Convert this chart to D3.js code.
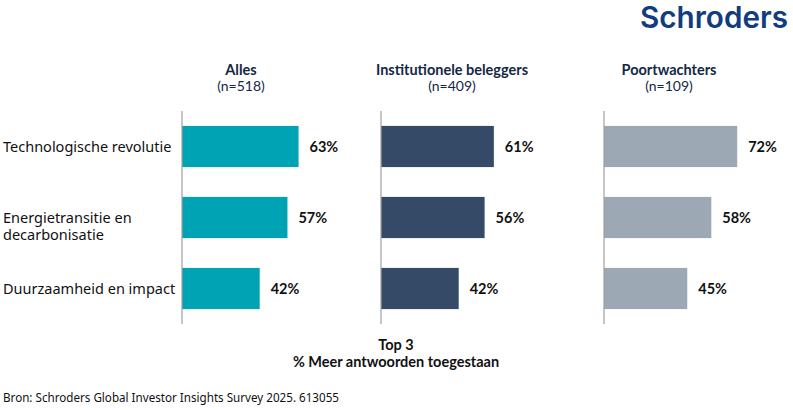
<!DOCTYPE html>
<html><head><meta charset="utf-8">
<script src="https://cdn.jsdelivr.net/npm/d3@7"></script>
<style>body{margin:0;background:#fff}svg{display:block}</style>
</head><body><svg id="c" width="793" height="410"></svg>
<script>
const categories = [["Technologische revolutie"], ["Energietransitie en", "decarbonisatie"], ["Duurzaamheid en impact"]];
const groups = ["Alles", "Institutionele beleggers", "Poortwachters"];
const sampleSizes = ["(n=518)", "(n=409)", "(n=109)"];
const allesValues = [63, 57, 42];
const institutioneleValues = [61, 56, 42];
const poortwachtersValues = [72, 58, 45];
const seriesValues = [allesValues, institutioneleValues, poortwachtersValues];
const colors = ["#00a3b4", "#344a66", "#9ca9b4"];

const svg = d3.select("#c");
const panelX = [182, 381, 604];
const headerX = [241, 452, 669];
const x = d3.scaleLinear().domain([0, 100]).range([0, 185]);
const y = d3.scaleBand().domain(d3.range(categories.length)).range([111, 324]).paddingInner(0.42).paddingOuter(0.21);

// logo
svg.append("text").attr("x", 788).attr("y", 28).attr("text-anchor", "end")
  .attr("font-family", "Inter").attr("font-weight", 600).attr("font-size", 30)
  .attr("textLength", 148).attr("lengthAdjust", "spacingAndGlyphs")
  .attr("fill", "#123c80").text("Schroders");

// category labels
categories.forEach((lines, i) => {
  const t = svg.append("text").attr("x", 3).attr("font-family", "Noto Sans")
    .attr("font-size", 14.5).attr("fill", "#111");
  lines.forEach((l, j) => {
    t.append("tspan").attr("x", 3).attr("y", y(i) + y.bandwidth() / 2 + 5 + j * 17.5).text(l);
  });
});

groups.forEach((g, k) => {
  const gx = panelX[k];
  svg.append("text").attr("x", headerX[k]).attr("y", 75).attr("text-anchor", "middle")
    .attr("font-family", "Lato").attr("font-weight", 700).attr("font-size", 14.5)
    .attr("fill", "#142846").text(g);
  svg.append("text").attr("x", headerX[k]).attr("y", 91).attr("text-anchor", "middle")
    .attr("font-family", "Lato").attr("font-size", 14)
    .attr("fill", "#142846").text(sampleSizes[k]);
  const p = svg.append("g").attr("transform", `translate(${gx},0)`);
  p.selectAll("rect").data(seriesValues[k]).join("rect")
    .attr("x", 0).attr("y", (d, i) => y(i)).attr("width", d => x(d))
    .attr("height", y.bandwidth()).attr("fill", colors[k]);
  p.selectAll("text.v").data(seriesValues[k]).join("text").attr("class", "v")
    .attr("x", d => x(d) + 11).attr("y", (d, i) => y(i) + y.bandwidth() / 2 + 5)
    .attr("font-family", "Lato").attr("font-weight", 700).attr("font-size", 14.5)
    .attr("fill", "#111").text(d => d + "%");
  p.append("line").attr("x1", 0).attr("x2", 0).attr("y1", 111).attr("y2", 324)
    .attr("stroke", "#a0a0a0").attr("stroke-width", 1.2);
});

svg.append("text").attr("x", 396).attr("y", 350).attr("text-anchor", "middle")
  .attr("font-family", "Lato").attr("font-weight", 700).attr("font-size", 14.5)
  .attr("fill", "#111").text("Top 3");
svg.append("text").attr("x", 396).attr("y", 367).attr("text-anchor", "middle")
  .attr("font-family", "Lato").attr("font-weight", 700).attr("font-size", 14.5)
  .attr("fill", "#111").text("% Meer antwoorden toegestaan");

svg.append("text").attr("x", 3).attr("y", 402)
  .attr("font-family", "Noto Sans").attr("font-size", 12.5)
  .attr("textLength", 336).attr("lengthAdjust", "spacingAndGlyphs")
  .attr("fill", "#111").text("Bron: Schroders Global Investor Insights Survey 2025. 613055");
</script></body></html>
